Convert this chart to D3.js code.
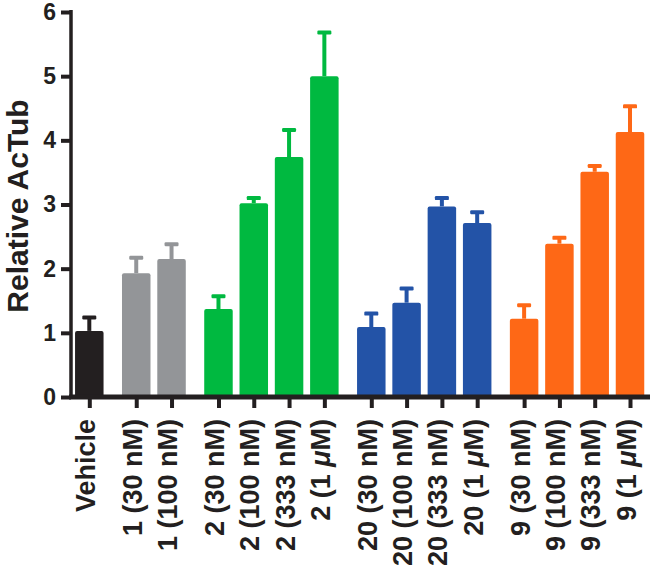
<!DOCTYPE html>
<html>
<head>
<meta charset="utf-8">
<script src="https://cdn.jsdelivr.net/npm/d3@7"></script>
<style>
  html, body { margin: 0; padding: 0; background: #fff; }
  svg { display: block; }
  text { font-family: "Liberation Sans", Arial, Helvetica, sans-serif; font-weight: bold; fill: #231f20; }
</style>
</head>
<body>
<svg id="chart" width="650" height="576"></svg>
<script>
// ---- data ----
const categories = ["Vehicle", "1 (30 nM)", "1 (100 nM)",
  "2 (30 nM)", "2 (100 nM)", "2 (333 nM)", "2 (1 μM)",
  "20 (30 nM)", "20 (100 nM)", "20 (333 nM)", "20 (1 μM)",
  "9 (30 nM)", "9 (100 nM)", "9 (333 nM)", "9 (1 μM)"];
const groups = [0, 1, 1, 2, 2, 2, 2, 3, 3, 3, 3, 4, 4, 4, 4];
const values = [1.03, 1.93, 2.15, 1.37, 3.02, 3.74, 5.00, 1.09, 1.47, 2.97, 2.71, 1.22, 2.39, 3.51, 4.13];
const errors = [0.21, 0.24, 0.23, 0.20, 0.08, 0.42, 0.68, 0.21, 0.22, 0.13, 0.17, 0.21, 0.09, 0.09, 0.40];
const groupColors = ["#231f20", "#939598", "#00b940", "#2353a7", "#fe6816"];
const yTicks = [0, 1, 2, 3, 4, 5, 6];
const yTitle = "Relative AcTub";

// ---- layout ----
const svg = d3.select("#chart");
const gapRatio = 0.33;              // extra space between groups, in bar slots
const slots = categories.map((c, i) => i + groups[i] * gapRatio);
const x = d3.scaleLinear().domain([0, d3.max(slots)]).range([89.3, 630]);
const y = d3.scaleLinear().domain([0, 6]).range([397, 12]);
const barW = 28.5;
const axisX = 71;

// bars
const g = svg.append("g");
categories.forEach((c, i) => {
  const cx = x(slots[i]);
  const col = groupColors[groups[i]];
  // error bar
  g.append("line")
    .attr("x1", cx).attr("x2", cx)
    .attr("y1", y(values[i])).attr("y2", y(values[i] + errors[i]))
    .attr("stroke", col).attr("stroke-width", 4);
  g.append("rect")
    .attr("x", cx - 7).attr("width", 14)
    .attr("y", y(values[i] + errors[i]) - 2).attr("height", 4)
    .attr("rx", 1.2)
    .attr("fill", col);
  g.append("rect")
    .attr("x", cx - barW / 2).attr("width", barW)
    .attr("y", y(values[i])).attr("height", y(0) - y(values[i]) + 2)
    .attr("rx", 2)
    .attr("fill", col);
});

// y axis
const yAxis = svg.append("g")
  .attr("transform", `translate(${axisX},0)`)
  .call(d3.axisLeft(y).tickValues(yTicks).tickFormat(d3.format("d")).tickSize(10).tickPadding(5));
yAxis.select(".domain").remove();
yAxis.append("line").attr("x1", 0).attr("x2", 0).attr("y1", y(6) - 2).attr("y2", y(0) + 2)
  .attr("stroke", "#231f20").attr("stroke-width", 3.5);
yAxis.selectAll(".tick line").attr("stroke", "#231f20").attr("stroke-width", 4);
yAxis.selectAll(".tick text").attr("font-size", 23).attr("font-family", null).attr("fill", "#231f20");

// x axis
const xAxis = svg.append("g")
  .attr("transform", `translate(0,${y(0)})`)
  .call(d3.axisBottom(x).tickValues(slots).tickFormat((d, i) => categories[i]).tickSize(11).tickPadding(0));
xAxis.select(".domain").remove();
xAxis.append("line").attr("x1", axisX - 2).attr("x2", 650).attr("y1", 0).attr("y2", 0)
  .attr("stroke", "#231f20").attr("stroke-width", 5);
xAxis.selectAll(".tick line").attr("stroke", "#231f20").attr("stroke-width", 4);
xAxis.selectAll(".tick text")
  .attr("font-size", 27).attr("font-family", null).attr("fill", "#231f20")
  .attr("text-anchor", "end")
  .attr("transform", "translate(5,22) rotate(-90)")
  .attr("x", 0).attr("y", 0).attr("dy", 0)
  .each(function (d, i) {
    const t = categories[i];
    const el = d3.select(this);
    el.text(null);
    const parts = t.split("μ");
    parts.forEach((p, k) => {
      if (k > 0) el.append("tspan").attr("font-style", "italic").text("μ");
      el.append("tspan").text(p);
    });
  });

// y title
svg.append("text")
  .attr("transform", `translate(28,206) rotate(-90)`)
  .attr("text-anchor", "middle")
  .attr("font-size", 30)
  .text(yTitle);
</script>
</body>
</html>
